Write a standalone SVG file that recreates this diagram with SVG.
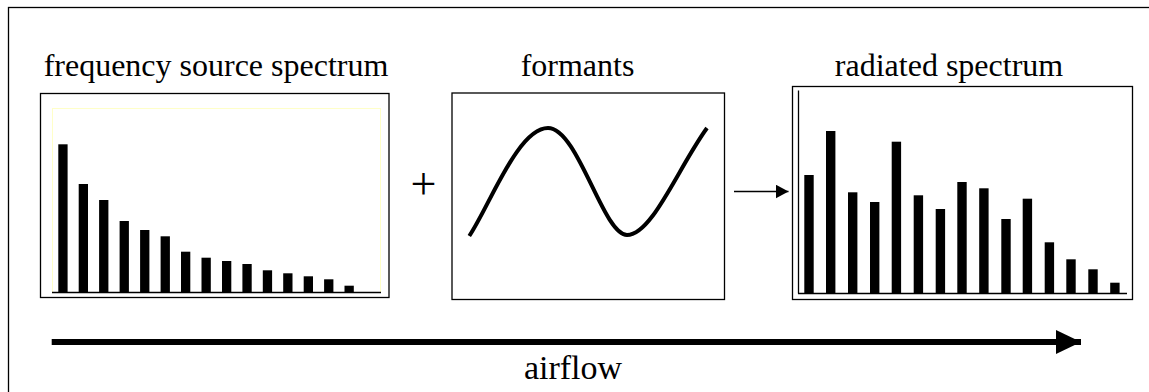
<svg xmlns="http://www.w3.org/2000/svg" width="1149" height="392" viewBox="0 0 1149 392">
<defs>
<style>
.lbl{font-family:"Liberation Serif","Times New Roman",serif;font-size:32px;fill:#000;text-anchor:middle}
.box{fill:#fff;stroke:#000;stroke-width:1.3}
.bar{fill:#000}
.axis{stroke:#000;stroke-width:1.3;fill:none}
</style>
<marker id="ah" viewBox="0 0 13 14" refX="13" refY="7" markerWidth="13" markerHeight="14" markerUnits="userSpaceOnUse" orient="auto"><path d="M0,0 L13,7 L0,14 Z" fill="#000"/></marker>
<marker id="ahBig" viewBox="0 0 25 24" refX="25" refY="12" markerWidth="25" markerHeight="24" markerUnits="userSpaceOnUse" orient="auto"><path d="M0,0 L25,12 L0,24 Z" fill="#000"/></marker>
</defs>
<rect x="0" y="0" width="1149" height="392" fill="#fff"/>
<rect x="8.5" y="7.5" width="1160" height="400" fill="none" stroke="#000" stroke-width="1.3"/>

<g id="source">
<text class="lbl" x="216" y="76">frequency source spectrum</text>
<rect class="box" x="40.5" y="93.5" width="348.5" height="204"/>
<rect x="52.5" y="108.5" width="328" height="184" fill="none" stroke="#ffffc8" stroke-width="1"/>
<line class="axis" x1="52" y1="292.5" x2="381" y2="292.5"/>
<rect class="bar" x="58.3" y="144.3" width="9.3" height="148"/>
<rect class="bar" x="78.7" y="184" width="9.3" height="108.3"/>
<rect class="bar" x="99.1" y="200" width="9.3" height="92.3"/>
<rect class="bar" x="119.6" y="221" width="9.3" height="71.3"/>
<rect class="bar" x="140.1" y="230" width="9.3" height="62.3"/>
<rect class="bar" x="160.6" y="236.3" width="9.3" height="56"/>
<rect class="bar" x="181" y="251.7" width="9.3" height="40.6"/>
<rect class="bar" x="201.5" y="257.7" width="9.3" height="34.6"/>
<rect class="bar" x="222" y="261" width="9.3" height="31.3"/>
<rect class="bar" x="242.4" y="264" width="9.3" height="28.3"/>
<rect class="bar" x="262.8" y="270.3" width="9.3" height="22"/>
<rect class="bar" x="283.2" y="273.3" width="9.3" height="19"/>
<rect class="bar" x="303.7" y="276.3" width="9.3" height="16"/>
<rect class="bar" x="324.1" y="279.3" width="9.3" height="13"/>
<rect class="bar" x="344.5" y="285.7" width="9.3" height="6.6"/>
</g>

<g id="plus">
<text class="lbl" x="423.5" y="199" style="font-size:46px">+</text>
</g>

<g id="formants">
<text class="lbl" x="577.5" y="76">formants</text>
<rect class="box" x="452" y="93" width="272.5" height="206.5"/>
<path d="M469.3,236 C490,205 518,128 548,128 C578,128 603,235 627,235 C652,235 678,168 707,128" fill="none" stroke="#000" stroke-width="4" stroke-linejoin="round"/>
</g>

<g id="radiated">
<text class="lbl" x="949" y="76">radiated spectrum</text>
<rect class="box" x="792.5" y="86.5" width="340" height="213"/>
<line class="axis" x1="798.5" y1="90.5" x2="798.5" y2="293.5"/>
<line class="axis" x1="798" y1="293.5" x2="1127" y2="293.5"/>
<rect class="bar" x="804.3" y="175" width="9.4" height="118"/>
<rect class="bar" x="826" y="131" width="9.4" height="162"/>
<rect class="bar" x="848" y="192.3" width="9.4" height="100.7"/>
<rect class="bar" x="870" y="202" width="9.4" height="91"/>
<rect class="bar" x="891.7" y="141.7" width="9.4" height="151.3"/>
<rect class="bar" x="913.7" y="195.3" width="9.4" height="97.7"/>
<rect class="bar" x="935.7" y="209" width="9.4" height="84"/>
<rect class="bar" x="957.3" y="182" width="9.4" height="111"/>
<rect class="bar" x="979.2" y="188.3" width="9.4" height="104.7"/>
<rect class="bar" x="1001.3" y="219" width="9.4" height="74"/>
<rect class="bar" x="1022.7" y="198.7" width="9.4" height="94.3"/>
<rect class="bar" x="1044.7" y="242.3" width="9.4" height="50.7"/>
<rect class="bar" x="1066.3" y="259.3" width="9.4" height="33.7"/>
<rect class="bar" x="1088.3" y="269.3" width="9.4" height="23.7"/>
<rect class="bar" x="1110.2" y="282.7" width="9.4" height="10.3"/>
</g>

<g id="airflow-label">
<text class="lbl" x="573" y="379" style="font-size:34px">airflow</text>
</g>

<g id="connectors">
<line x1="734" y1="191.5" x2="788.5" y2="191.5" stroke="#000" stroke-width="1.3" marker-end="url(#ah)"/>
<line x1="51.7" y1="342" x2="1081" y2="342" stroke="#000" stroke-width="6" marker-end="url(#ahBig)"/>
</g>
</svg>
